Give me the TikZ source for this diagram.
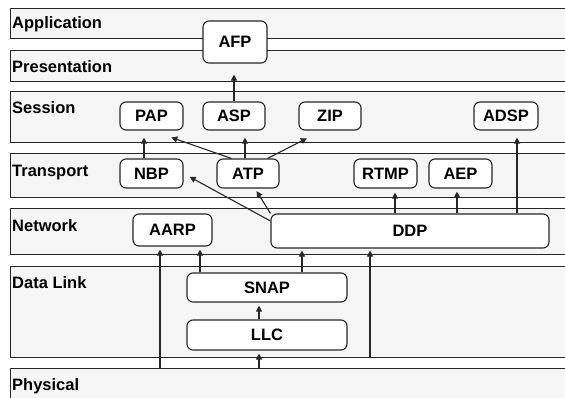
\documentclass[tikz,border=0pt]{standalone}
\usepackage{fontspec}
\setmainfont{Liberation Sans}
\usetikzlibrary{arrows.meta}

\tikzset{
  layer/.style={draw=black!85, fill=black!4, line width=1.1pt, anchor=north west,
    minimum width=575pt, inner sep=0pt},
  layername/.style={anchor=base west, inner sep=0pt, font=\bfseries\fontsize{16.5}{18}\selectfont},
  proto/.style={draw=black!85, fill=white, rounded corners=6pt, line width=1.1pt,
    inner sep=0pt, font=\bfseries\fontsize{16.5}{18}\selectfont},
  link/.style={draw=black!85, line width=1.1pt, -{Triangle[length=6pt,width=6pt]}, shorten >=3pt},
}

\begin{document}
\begin{tikzpicture}[x=1pt,y=-1pt]
  \useasboundingbox (0,0) rectangle (565,397);
  \clip (0,0) rectangle (565,397);
  \fill[white] (0,0) rectangle (565,397);

  % layers
  \node[layer, minimum height=30pt] (app) at (10,8) {};
  \node[layer, minimum height=31pt] (pres) at (10,50) {};
  \node[layer, minimum height=51pt] (sess) at (10,91) {};
  \node[layer, minimum height=44pt] (trans) at (10,153) {};
  \node[layer, minimum height=46pt] (net) at (10,208) {};
  \node[layer, minimum height=91pt] (dlink) at (10,266) {};
  \node[layer, minimum height=40pt] (phys) at (10,368) {};

  \node[layername] (appname) at ([xshift=2pt,yshift=-20pt]app.north west) {Application};
  \node[layername] (presname) at ([xshift=2pt,yshift=-22pt]pres.north west) {Presentation};
  \node[layername] (sessname) at ([xshift=2pt,yshift=-22pt]sess.north west) {Session};
  \node[layername] (transname) at ([xshift=2pt,yshift=-23pt]trans.north west) {Transport};
  \node[layername] (netname) at ([xshift=2pt,yshift=-23pt]net.north west) {Network};
  \node[layername] (dlinkname) at ([xshift=2pt,yshift=-22pt]dlink.north west) {Data Link};
  \node[layername] (physname) at ([xshift=2pt,yshift=-22pt]phys.north west) {Physical};

  % protocols
  \node[proto, minimum width=64pt, minimum height=42pt] (AFP) at (235,42) {AFP};
  \node[proto, minimum width=63pt, minimum height=28pt] (PAP) at (151.5,116) {PAP};
  \node[proto, minimum width=62pt, minimum height=28pt] (ASP) at (234,116) {ASP};
  \node[proto, minimum width=62pt, minimum height=28pt] (ZIP) at (330,116) {ZIP};
  \node[proto, minimum width=64pt, minimum height=28pt] (ADSP) at (506,116) {ADSP};
  \node[proto, minimum width=63pt, minimum height=29pt] (NBP) at (151.5,173.5) {NBP};
  \node[proto, minimum width=62pt, minimum height=29pt] (ATP) at (248,173.5) {ATP};
  \node[proto, minimum width=63pt, minimum height=29pt] (RTMP) at (385.5,173.5) {RTMP};
  \node[proto, minimum width=63pt, minimum height=29pt] (AEP) at (460.5,173.5) {AEP};
  \node[proto, minimum width=79pt, minimum height=32pt] (AARP) at (172.5,230) {AARP};
  \node[proto, minimum width=278pt, minimum height=34pt] (DDP) at (410,231) {DDP};
  \node[proto, minimum width=160pt, minimum height=29pt] (SNAP) at (267,287.5) {SNAP};
  \node[proto, minimum width=160pt, minimum height=30pt] (LLC) at (267,335) {LLC};

  % upper links
  \draw[link, shorten >=11pt] (ASP.north) -- (ASP.north |- AFP.south);
  \draw[link, shorten >=7pt] ([xshift=-7.5pt]NBP.north) -- ([xshift=-7.5pt]PAP.south);
  \draw[link, shorten >=7pt] ([xshift=-3pt]ATP.north) -- ([xshift=11pt]ASP.south);
  \draw[link, shorten >=21pt] ([xshift=15pt]ATP.north west) -- (PAP.south);
  \draw[link, shorten >=17pt] ([xshift=-12pt]ATP.north east) -- ([xshift=-8pt]ZIP.south);

  % links out of DDP
  \draw[link] (DDP.north west) -- ([xshift=7pt]ATP.south);
  \draw[link, shorten >=7pt] ([yshift=10pt]DDP.west) -- (NBP.east);
  \coordinate (toRTMP) at ([xshift=-15pt]DDP.north);
  \coordinate (toAEP) at ([xshift=47pt]DDP.north);
  \coordinate (toADSP) at ([xshift=107pt]DDP.north);
  \draw[link, shorten >=4pt] (toRTMP) -- (toRTMP |- RTMP.south);
  \draw[link] (toAEP) -- (toAEP |- AEP.south);
  \draw[link, shorten >=7pt] (toADSP) -- (toADSP |- ADSP.south);

  % lower links
  \coordinate (physAARP) at ([xshift=-12.5pt]AARP.south);
  \coordinate (snapAARP) at ([xshift=27.5pt]AARP.south);
  \draw[link] (physAARP |- phys.north) -- (physAARP);
  \draw[link] (snapAARP |- SNAP.north) -- (snapAARP);
  \coordinate (snapDDP) at ([xshift=-108pt]DDP.south);
  \coordinate (physDDP) at ([xshift=-40pt]DDP.south);
  \draw[link, shorten >=2pt] (snapDDP |- SNAP.north) -- (snapDDP);
  \draw[link, shorten >=2pt] (physDDP |- dlink.south) -- (physDDP);
  \coordinate (llcUp) at ([xshift=-8pt]LLC.north);
  \draw[link] (llcUp) -- (llcUp |- SNAP.south);
  \draw[link] (llcUp |- phys.north) -- (llcUp |- LLC.south);
\end{tikzpicture}
\end{document}
